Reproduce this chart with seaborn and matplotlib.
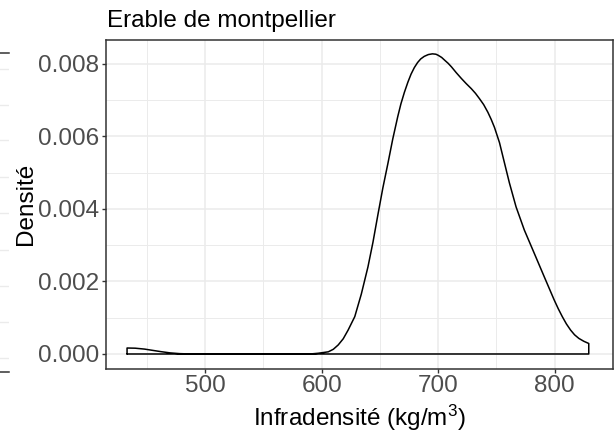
import matplotlib
matplotlib.use("Agg")
import matplotlib.pyplot as plt
import seaborn as sns
import pandas as pd

# Kernel density estimate of wood basic density (kg/m3) for the species
infradensite = [433, 440, 448, 455, 462, 470, 478, 488, 590, 597, 605.7, 610,
                614.2, 618.5, 622.7, 628.4, 634, 639.7, 644, 648.3, 652.5,
                656.8, 661, 665.3, 668, 671, 674, 676.7, 679.5, 682.3, 685,
                688, 691.5, 695, 698, 700, 703, 705.7, 708.5, 711.4, 715.5,
                719.9, 724, 728.4, 732, 735.5, 739, 742.6, 745.5, 748.3, 752.6,
                756.8, 761.1, 766.8, 773.9, 782.4, 791, 799.4, 803, 806.5,
                810, 813.6, 817, 820.7, 825, 829.2]
densite = [0.000165, 0.000160, 0.000135, 0.000100, 0.000065, 0.000030, 0.000010,
           0.0, 0.0, 0.00002, 0.00006, 0.00013, 0.00025, 0.00042, 0.00066,
           0.00103, 0.00165, 0.00240, 0.00308, 0.00385, 0.00458, 0.00525,
           0.00593, 0.00655, 0.00690, 0.00722, 0.00750, 0.00772, 0.00790,
           0.00804, 0.00814, 0.00821, 0.00826, 0.00828, 0.00827, 0.00824,
           0.00818, 0.00810, 0.00802, 0.00792, 0.00776, 0.00760, 0.00746,
           0.00732, 0.00719, 0.00704, 0.00688, 0.00667, 0.00647, 0.00625,
           0.00583, 0.00528, 0.00472, 0.00406, 0.00342, 0.00278, 0.00213,
           0.00150, 0.00125, 0.00103, 0.00083, 0.00066, 0.00053, 0.00043,
           0.00035, 0.00029]

titre = "Erable de montpellier"
x_ticks = [500, 600, 700, 800]
x_minor = [450, 550, 650, 750, 850]
y_ticks = [0.000, 0.002, 0.004, 0.006, 0.008]
y_minor = [0.001, 0.003, 0.005, 0.007]

sns.set_theme(style="white")
plt.rcParams["font.family"] = ["Liberation Sans", "DejaVu Sans"]
plt.rcParams["mathtext.fontset"] = "custom"
plt.rcParams["mathtext.rm"] = "Liberation Sans"
plt.rcParams["mathtext.it"] = "Liberation Sans:italic"
plt.rcParams["mathtext.default"] = "regular"

W, H = 614, 437
FS = 17.5
GRID = "#EBEBEB"
DARK = "#333333"
fig = plt.figure(figsize=(W / 100, H / 100), dpi=100, facecolor="white")


def px(l, t, r, b):
    return [l / W, 1 - b / H, (r - l) / W, (b - t) / H]


# sliver of the neighbouring panel on the left edge
side = fig.add_axes(px(-6, 52.7, 9.3, 372.3))
side.set_xlim(0, 1)
side.set_ylim(0, 1)
side.set_yticks([0.045, 0.157, 0.270, 0.382, 0.498, 0.612, 0.727, 0.836, 0.949])
side.set_xticks([])
side.tick_params(length=0, labelleft=False)
side.grid(True, axis="y", color=GRID, lw=1.0)
for s in ("left", "right"):
    side.spines[s].set_visible(False)
for s in ("top", "bottom"):
    side.spines[s].set_color(DARK)
    side.spines[s].set_linewidth(1.1)

ax = fig.add_axes(px(105.5, 40, 613, 369))

# closed outline: density curve plus the baseline between its extremes
xs = [infradensite[0]] + infradensite + [infradensite[-1], infradensite[0]]
ys = [0.0] + densite + [0.0, 0.0]
df = pd.DataFrame({"x": xs, "y": ys})
sns.lineplot(data=df, x="x", y="y", sort=False, estimator=None, color="black",
             lw=1.1, ax=ax, zorder=3)

ax.set_xlim(414.5, 846.8)
ax.set_ylim(-0.000414, 0.008662)
ax.set_xticks(x_ticks)
ax.set_xticks(x_minor, minor=True)
ax.set_yticks(y_ticks)
ax.set_yticks(y_minor, minor=True)
ax.set_xticklabels([str(v) for v in x_ticks])
ax.set_yticklabels([f"{v:.3f}" for v in y_ticks])
ax.grid(True, which="major", color=GRID, lw=1.1, zorder=0)
ax.grid(True, which="minor", color=GRID, lw=0.7, zorder=0)
ax.set_axisbelow(True)
ax.tick_params(which="major", direction="out", length=3.1, width=1.0,
               color=DARK, labelsize=FS, labelcolor="#4D4D4D", pad=1.4,
               bottom=True, left=True)
ax.tick_params(which="minor", length=0)
for s in ax.spines.values():
    s.set_color(DARK)
    s.set_linewidth(1.1)

ax.set_xlabel(r"Infradensité (kg/m$^{3}$)", fontsize=FS, color="black")
ax.xaxis.label.set_va("baseline")
ax.xaxis.set_label_coords(0.5, -(426 - 369) / 329)
ax.set_ylabel("")
fig.text(31.5 / W, 1 - 204 / H, "Densité", rotation=90, rotation_mode="anchor",
         ha="center", va="baseline", fontsize=FS, color="black")
fig.text(107 / W, 1 - 27 / H, titre, ha="left", va="baseline", fontsize=FS,
         color="black")

fig.savefig("out.png", dpi=100, facecolor="white")
